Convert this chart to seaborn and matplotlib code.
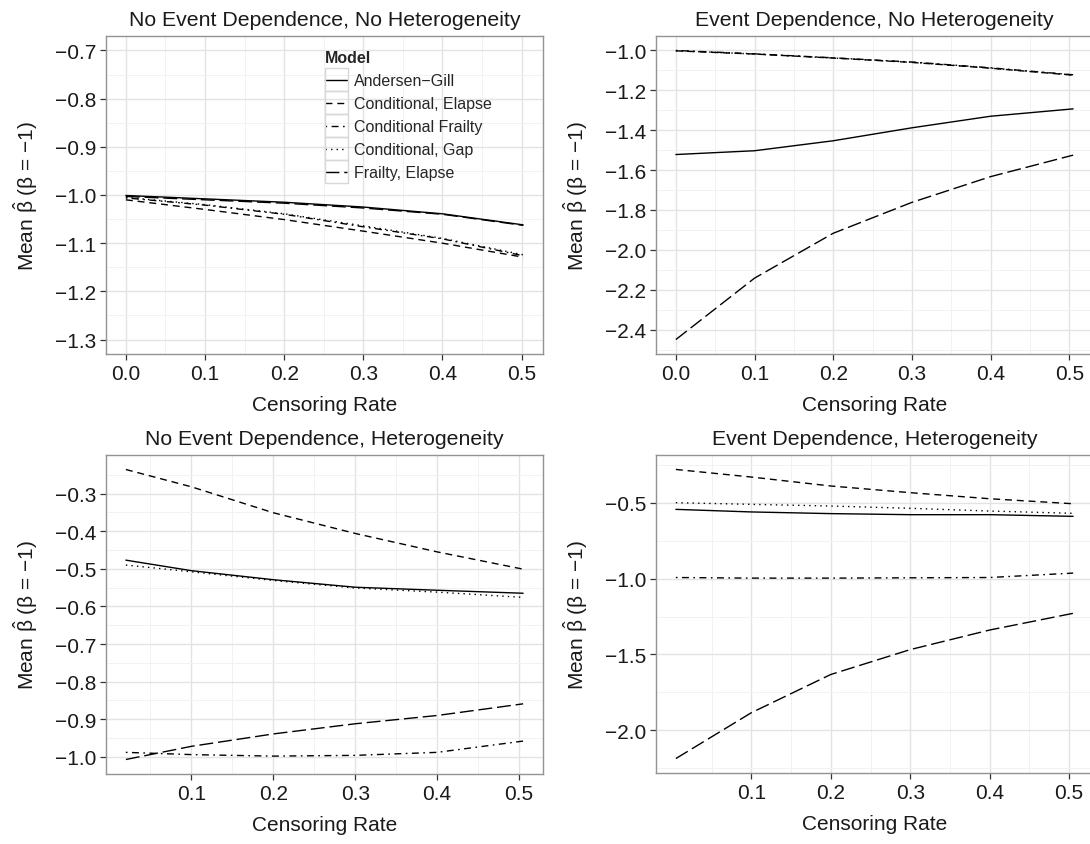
import numpy as np
import pandas as pd
import seaborn as sns
import matplotlib
matplotlib.use("Agg")
import matplotlib.pyplot as plt
from matplotlib.patches import Rectangle
from matplotlib.ticker import FixedLocator

# ---------------- data ----------------
models = ["Andersen\u2212Gill", "Conditional, Elapse", "Conditional Frailty",
          "Conditional, Gap", "Frailty, Elapse"]
titles = ["No Event Dependence, No Heterogeneity", "Event Dependence, No Heterogeneity",
          "No Event Dependence, Heterogeneity", "Event Dependence, Heterogeneity"]

x_p1 = [0.0, 0.1, 0.2, 0.3, 0.4, 0.502]
x_p2 = [0.0, 0.1, 0.2, 0.3, 0.4, 0.505]
x_p3 = [0.02, 0.1, 0.2, 0.3, 0.4, 0.505]
x_p4 = [0.005, 0.1, 0.2, 0.3, 0.4, 0.505]

# panel 1: no event dependence, no heterogeneity
p1_ag = [-1.001, -1.008, -1.015, -1.025, -1.039, -1.062]
p1_ce = [-1.010, -1.030, -1.051, -1.075, -1.100, -1.129]
p1_cf = [-1.006, -1.021, -1.040, -1.066, -1.091, -1.126]
p1_cg = [-1.005, -1.020, -1.039, -1.064, -1.090, -1.124]
p1_fe = [-1.003, -1.010, -1.017, -1.027, -1.040, -1.063]

# panel 2: event dependence, no heterogeneity
p2_ag = [-1.522, -1.503, -1.453, -1.388, -1.330, -1.293]
p2_ce = [-1.002, -1.018, -1.038, -1.060, -1.089, -1.124]
p2_cf = [-1.000, -1.017, -1.037, -1.058, -1.087, -1.122]
p2_cg = [-1.001, -1.018, -1.038, -1.059, -1.088, -1.123]
p2_fe = [-2.450, -2.142, -1.917, -1.762, -1.633, -1.525]

# panel 3: no event dependence, heterogeneity
p3_ag = [-0.477, -0.505, -0.529, -0.549, -0.557, -0.565]
p3_ce = [-0.236, -0.282, -0.351, -0.406, -0.455, -0.501]
p3_cf = [-0.988, -0.994, -0.998, -0.996, -0.988, -0.958]
p3_cg = [-0.490, -0.508, -0.531, -0.551, -0.562, -0.576]
p3_fe = [-1.007, -0.972, -0.939, -0.912, -0.890, -0.859]

# panel 4: event dependence, heterogeneity
p4_ag = [-0.544, -0.561, -0.572, -0.579, -0.579, -0.590]
p4_ce = [-0.281, -0.331, -0.390, -0.434, -0.474, -0.507]
p4_cf = [-0.993, -0.997, -0.997, -0.995, -0.993, -0.964]
p4_cg = [-0.500, -0.511, -0.522, -0.537, -0.555, -0.570]
p4_fe = [-2.186, -1.884, -1.632, -1.468, -1.339, -1.229]

p1_yticks = [-1.3, -1.2, -1.1, -1.0, -0.9, -0.8, -0.7]
p2_yticks = [-2.4, -2.2, -2.0, -1.8, -1.6, -1.4, -1.2, -1.0]
p3_yticks = [-1.0, -0.9, -0.8, -0.7, -0.6, -0.5, -0.4, -0.3]
p4_yticks = [-2.0, -1.5, -1.0, -0.5]
top_xticks = [0.0, 0.1, 0.2, 0.3, 0.4, 0.5]
bot_xticks = [0.1, 0.2, 0.3, 0.4, 0.5]

panels = [
    (x_p1, [p1_ag, p1_ce, p1_cf, p1_cg, p1_fe], top_xticks, p1_yticks, (-1.3, -0.7)),
    (x_p2, [p2_ag, p2_ce, p2_cf, p2_cg, p2_fe], top_xticks, p2_yticks, None),
    (x_p3, [p3_ag, p3_ce, p3_cf, p3_cg, p3_fe], bot_xticks, p3_yticks, None),
    (x_p4, [p4_ag, p4_ce, p4_cf, p4_cg, p4_fe], bot_xticks, p4_yticks, None),
]

# ---------------- style ----------------
sns.set_style("white")
plt.rcParams["font.family"] = ["Liberation Sans", "DejaVu Sans"]
plt.rcParams["mathtext.fontset"] = "custom"
plt.rcParams["mathtext.rm"] = "Liberation Sans"
plt.rcParams["mathtext.it"] = "Liberation Sans:italic"
plt.rcParams["lines.scale_dashes"] = False

dash_map = {
    models[0]: "",
    models[1]: (5, 3.5),
    models[2]: (1.2, 3.2, 5, 3.2),
    models[3]: (1.0, 3.0),
    models[4]: (10, 3.5),
}

W, H = 1090, 845
fig = plt.figure(figsize=(W / 100, H / 100), dpi=100)
boxes = [(106, 37, 437, 318), (656, 37, 437, 318), (106, 456, 437, 319), (656, 456, 437, 318)]

TXT = "#1a1a1a"
axes = []
for i, (xs, ys, xt, yt, ylims) in enumerate(panels):
    l, t, w, h = boxes[i]
    ax = fig.add_axes([l / W, 1 - (t + h) / H, w / W, h / H])
    axes.append(ax)
    rows = []
    for m, yv in zip(models, ys):
        for xv, yy in zip(xs, yv):
            rows.append({"Censoring Rate": xv, "beta": yy, "Model": m})
    df = pd.DataFrame(rows)
    sns.lineplot(data=df, x="Censoring Rate", y="beta", style="Model",
                 style_order=models, dashes=dash_map, color="black",
                 linewidth=1.0, ax=ax, legend=(i == 0), zorder=3)

    # ggplot-like expanded limits
    xmin, xmax = min(xs), max(xs)
    xspan = xmax - xmin
    ax.set_xlim(xmin - 0.05 * xspan, xmax + 0.05 * xspan)
    if ylims is None:
        ymin = min(min(v) for v in ys)
        ymax = max(max(v) for v in ys)
    else:
        ymin, ymax = ylims
    yspan = ymax - ymin
    ax.set_ylim(ymin - 0.05 * yspan, ymax + 0.05 * yspan)

    ax.xaxis.set_major_locator(FixedLocator(xt))
    ax.yaxis.set_major_locator(FixedLocator(yt))
    ax.set_xticklabels([f"{v:.1f}" for v in xt])
    ax.set_yticklabels([f"{v:.1f}".replace("-", "\u2212") for v in yt])
    # minor grid at midpoints
    dx = xt[1] - xt[0]
    xm = [v + dx / 2 for v in ([xt[0] - dx] + xt)]
    dy = yt[1] - yt[0]
    ym = [v + dy / 2 for v in ([yt[0] - dy] + yt)]
    ax.xaxis.set_minor_locator(FixedLocator(xm))
    ax.yaxis.set_minor_locator(FixedLocator(ym))

    ax.grid(which="major", color="#E3E3E3", linewidth=1.0, zorder=0)
    ax.grid(which="minor", color="#F2F2F2", linewidth=0.7, zorder=0)
    ax.set_axisbelow(True)
    for sp in ax.spines.values():
        sp.set_color("#939393")
        sp.set_linewidth(1.0)
    ax.tick_params(which="major", direction="out", length=4, width=0.9,
                   color="#333333", labelsize=15, labelcolor=TXT, pad=3,
                   bottom=True, left=True)
    ax.tick_params(which="minor", length=0)

    ax.set_title(titles[i], fontsize=15.3, color=TXT, pad=8)
    ax.set_xlabel("Censoring Rate", fontsize=15, color=TXT, labelpad=9)
    ax.set_ylabel(r"Mean $\hat{\mathrm{\beta}}$ ($\mathrm{\beta}$ = $-$1)", fontsize=15, color=TXT)
    ax.yaxis.set_label_coords(-0.15, 0.5)

# legend in panel 1
ax = axes[0]
handles, labels = ax.get_legend_handles_labels()
leg = ax.legend(handles, labels, title="Model", loc="upper left",
                bbox_to_anchor=(0.48, 0.985), frameon=False, fontsize=11.5,
                title_fontproperties={"weight": "bold", "size": 11.5},
                alignment="left", handlelength=1.35, handletextpad=0.45,
                labelspacing=0.5, borderaxespad=0.2)
for hdl in leg.legend_handles:
    hdl.set_linewidth(1.0)

fig.canvas.draw()
renderer = fig.canvas.get_renderer()
for hdl in leg.legend_handles:
    bb = hdl.get_window_extent(renderer)
    cx = (bb.x0 + bb.x1) / 2
    cy = (bb.y0 + bb.y1) / 2
    bw, bh = 23, 22.5
    rect = Rectangle(((cx - bw / 2) / W, (cy - bh / 2) / H), bw / W, bh / H,
                     transform=fig.transFigure, fill=False, edgecolor="#D8D8D8",
                     linewidth=1.0, zorder=5)
    fig.add_artist(rect)

fig.savefig("out.png", dpi=100)
